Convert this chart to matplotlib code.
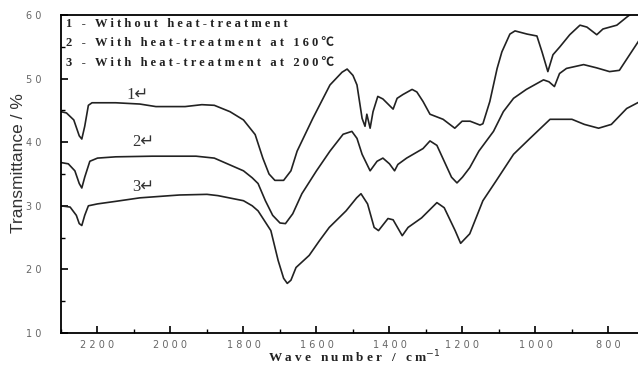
import matplotlib
matplotlib.use('Agg')
import matplotlib.pyplot as plt
from matplotlib.ticker import MultipleLocator, FuncFormatter

# curve 1 - without heat-treatment
wave_1 = [2300, 2285, 2265, 2250, 2243, 2235, 2225, 2215, 2150, 2084, 2040, 1960, 1914, 1880,
          1837, 1800, 1768, 1747, 1730, 1714, 1690, 1670, 1653, 1610, 1563, 1530, 1516, 1500,
          1489, 1475, 1467, 1462, 1453, 1445, 1432, 1418, 1404, 1390, 1379, 1363, 1338, 1325,
          1308, 1289, 1253, 1221, 1201, 1179, 1152, 1144, 1125, 1105, 1092, 1070, 1056, 1023,
          996, 982, 966, 952, 933, 906, 878, 859, 832, 815, 777, 749, 719]
trans_1 = [44.8, 44.6, 43.5, 41.0, 40.5, 42.5, 45.8, 46.2, 46.2, 46.0, 45.6, 45.6, 45.9, 45.8,
           44.8, 43.5, 41.2, 37.5, 35.0, 34.0, 34.0, 35.5, 38.6, 43.75, 49.0, 51.0, 51.5, 50.5,
           49.0, 43.75, 42.5, 44.4, 42.2, 44.8, 47.2, 46.8, 46.0, 45.2, 46.9, 47.5, 48.3, 47.9,
           46.4, 44.4, 43.6, 42.2, 43.3, 43.3, 42.7, 42.9, 46.4, 51.6, 54.2, 57.0, 57.5, 57.0,
           56.7, 54.2, 51.1, 53.75, 55.0, 56.9, 58.4, 58.1, 56.9, 57.8, 58.4, 59.7, 61.0]

# curve 2 - heat-treatment at 160
wave_2 = [2300, 2280, 2262, 2250, 2243, 2235, 2221, 2200, 2150, 2050, 1930, 1880, 1860, 1800,
          1776, 1760, 1740, 1720, 1700, 1685, 1665, 1640, 1600, 1563, 1527, 1503, 1489, 1475,
          1453, 1434, 1418, 1400, 1386, 1377, 1353, 1308, 1289, 1270, 1250, 1230, 1215, 1200,
          1180, 1155, 1115, 1088, 1060, 1025, 978, 963, 948, 934, 915, 868, 833, 797, 770,
          742, 715, 700]
trans_2 = [36.8, 36.6, 35.5, 33.5, 32.8, 34.5, 37.0, 37.5, 37.7, 37.8, 37.8, 37.5, 37.0, 35.5,
           34.4, 33.5, 30.8, 28.5, 27.3, 27.2, 28.75, 31.9, 35.5, 38.6, 41.25, 41.7, 40.6, 38.1,
           35.5, 37.0, 37.5, 36.6, 35.5, 36.5, 37.5, 39.0, 40.2, 39.5, 37.0, 34.5, 33.6, 34.5,
           36.0, 38.6, 41.7, 44.8, 46.9, 48.3, 49.8, 49.5, 48.75, 50.8, 51.6, 52.2, 51.7, 51.1, 51.3,
           53.75, 56.1, 56.9]

# curve 3 - heat-treatment at 200
wave_3 = [2300, 2275, 2258, 2250, 2243, 2235, 2225, 2200, 2150, 2084, 2000, 1975, 1900, 1870,
          1800, 1776, 1760, 1725, 1705, 1690, 1680, 1670, 1656, 1620, 1592, 1565, 1519, 1490,
          1478, 1460, 1442, 1430, 1404, 1390, 1365, 1349, 1312, 1270, 1250, 1220, 1205, 1180,
          1144, 1108, 1060, 1015, 960, 900, 866, 827, 792, 750, 720]
trans_3 = [30.0, 29.8, 28.5, 27.2, 26.9, 28.5, 30.0, 30.3, 30.7, 31.25, 31.6, 31.7, 31.8, 31.6,
           30.8, 30.0, 29.2, 26.1, 21.4, 18.6, 17.8, 18.3, 20.3, 22.2, 24.5, 26.6, 29.2, 31.25,
           31.9, 30.3, 26.6, 26.1, 28.0, 27.8, 25.3, 26.6, 28.1, 30.5, 29.7, 26.1, 24.1, 25.6,
           30.8, 33.9, 38.1, 40.6, 43.6, 43.6, 42.8, 42.2, 42.8, 45.3, 46.2]

legend_lines = ["1 - Without heat-treatment",
                "2 - With heat-treatment at 160\u2103",
                "3 - With heat-treatment at 200\u2103"]
curve_labels = ["1\u21b5", "2\u21b5", "3\u21b5"]


def spaced(s):
    # the original figure has wide letter spacing
    return " ".join(s)


fig = plt.figure(figsize=(6.38, 3.66), dpi=100)
ax = fig.add_axes([61 / 638, 33 / 366, 577 / 638, 318 / 366])

for w, t in [(wave_1, trans_1), (wave_2, trans_2), (wave_3, trans_3)]:
    ax.plot(w, t, color='#222222', lw=1.2)

ax.set_xlim(2300, 719)
ax.set_ylim(10, 60)

ax.xaxis.set_major_locator(MultipleLocator(200))
ax.xaxis.set_minor_locator(MultipleLocator(100))
ax.yaxis.set_major_locator(MultipleLocator(10))
ax.yaxis.set_minor_locator(MultipleLocator(5))
fmt = FuncFormatter(lambda v, p: " ".join(str(int(round(v)))))
ax.xaxis.set_major_formatter(fmt)
ax.yaxis.set_major_formatter(fmt)

ax.tick_params(which='both', direction='in', top=False, right=False)
ax.tick_params(which='major', length=5, width=1.2)
ax.tick_params(which='minor', length=3, width=1)
ax.tick_params(axis='x', which='major', labelsize=7, labelcolor='#666666', pad=5)
ax.tick_params(axis='y', which='major', labelsize=7, labelcolor='#666666', pad=14)
ax.spines['right'].set_visible(False)
for s in ['left', 'bottom', 'top']:
    ax.spines[s].set_linewidth(1.3)

serif = ['Liberation Serif', 'Noto Sans CJK SC', 'DejaVu Sans']
for i, line in enumerate(legend_lines):
    ax.text(0.009, [0.972, 0.912, 0.849][i], spaced(line), transform=ax.transAxes,
            fontsize=9, fontweight='bold', family=serif, va='center', ha='left', color='#222222')

for i, lab in enumerate(curve_labels):
    ax.text([0.133, 0.142, 0.142][i], [0.748, 0.60, 0.459][i], lab, transform=ax.transAxes,
            fontsize=12, family=['Liberation Serif', 'DejaVu Sans'], va='center', ha='center',
            color='#333333')

fig.text(18.5 / 638, 1 - 163 / 366, "Transmittance / %", rotation=90, fontsize=12.5,
         family='Liberation Sans', va='center', ha='center', color='#333333')
fig.text(268 / 638, 1 - 357 / 366, spaced("Wave number / cm") + "$^{-1}$", fontsize=9.5,
         fontweight='bold', family=serif, va='center', ha='left', color='#222222')

fig.savefig('out.png', dpi=100)
